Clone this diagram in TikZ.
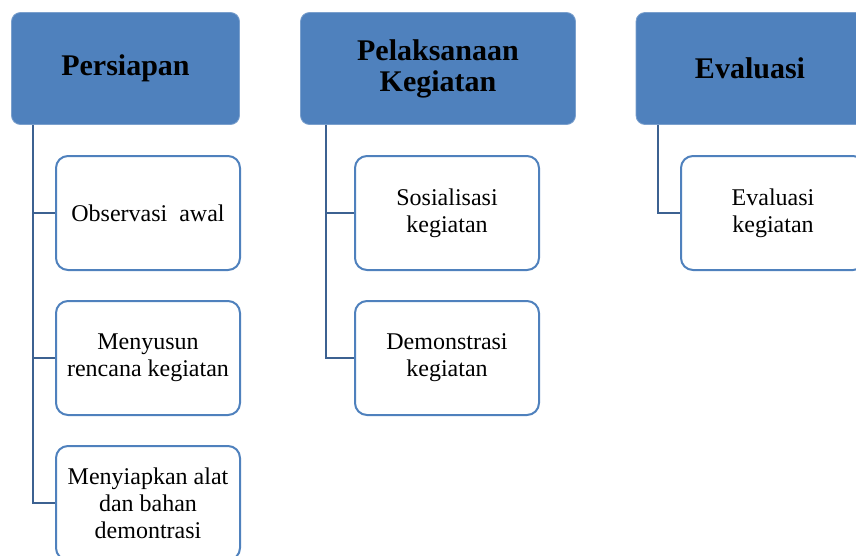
\documentclass[tikz,border=0pt]{standalone}
\usepackage{fontspec}
\setmainfont{Liberation Serif}
\usetikzlibrary{positioning}
\definecolor{myblue}{RGB}{79,129,189}
\definecolor{mydarkblue}{RGB}{60,97,145}

\begin{document}
\begin{tikzpicture}[x=1pt, y=-1pt,
	head/.style = {rectangle, rounded corners=9pt, fill=myblue, draw=myblue!75!white, line width=0.8pt, minimum height=112pt, align=center, font=\fontsize{30}{31}\selectfont\bfseries},
	item/.style = {rectangle, rounded corners=12pt, draw=myblue, line width=2pt, fill=white, minimum width=184pt, minimum height=114pt, align=center, font=\fontsize{24}{27}\selectfont},
	spine/.style = {draw=mydarkblue, line width=2pt}]

\path[use as bounding box, clip] (0,0) rectangle (856,555);

%---------HEADERS-----------%
\node [head, minimum width=228pt] (h1) at (125.5,68.5) {Persiapan};
\node [head, minimum width=275pt] (h2) at (438,68.5) {Pelaksanaan\\Kegiatan};
\node [head, minimum width=228pt] (h3) at (750,68.5) {Evaluasi};

%---------ITEMS-----------%
\foreach \n/\x/\y/\t in {11/148/213/{Observasi\ \ awal},
	12/148/358/{Menyusun\\rencana\ kegiatan},
	13/148/503/{Menyiapkan\ alat\\dan bahan\\demontrasi},
	21/447/213/{Sosialisasi\\kegiatan},
	22/447/358/{Demonstrasi\\kegiatan},
	31/773/213/{Evaluasi\\kegiatan}}{
	\node [item] (c\n) at (\x,\y) {\t};
};

%---------LINKS-----------%
\coordinate (s1) at ([xshift=22pt]h1.south west);
\coordinate (s2) at ([xshift=26pt]h2.south west);
\coordinate (s3) at ([xshift=22pt]h3.south west);

\draw[spine] (s1) |- (c13.west);
\draw[spine] (s2) |- (c22.west);
\draw[spine] (s3) |- (c31.west);

\foreach \s/\c in {1/11,1/12,2/21}{
	\draw[spine] (s\s |- c\c.west) -- (c\c.west);
};

\end{tikzpicture}
\end{document}
